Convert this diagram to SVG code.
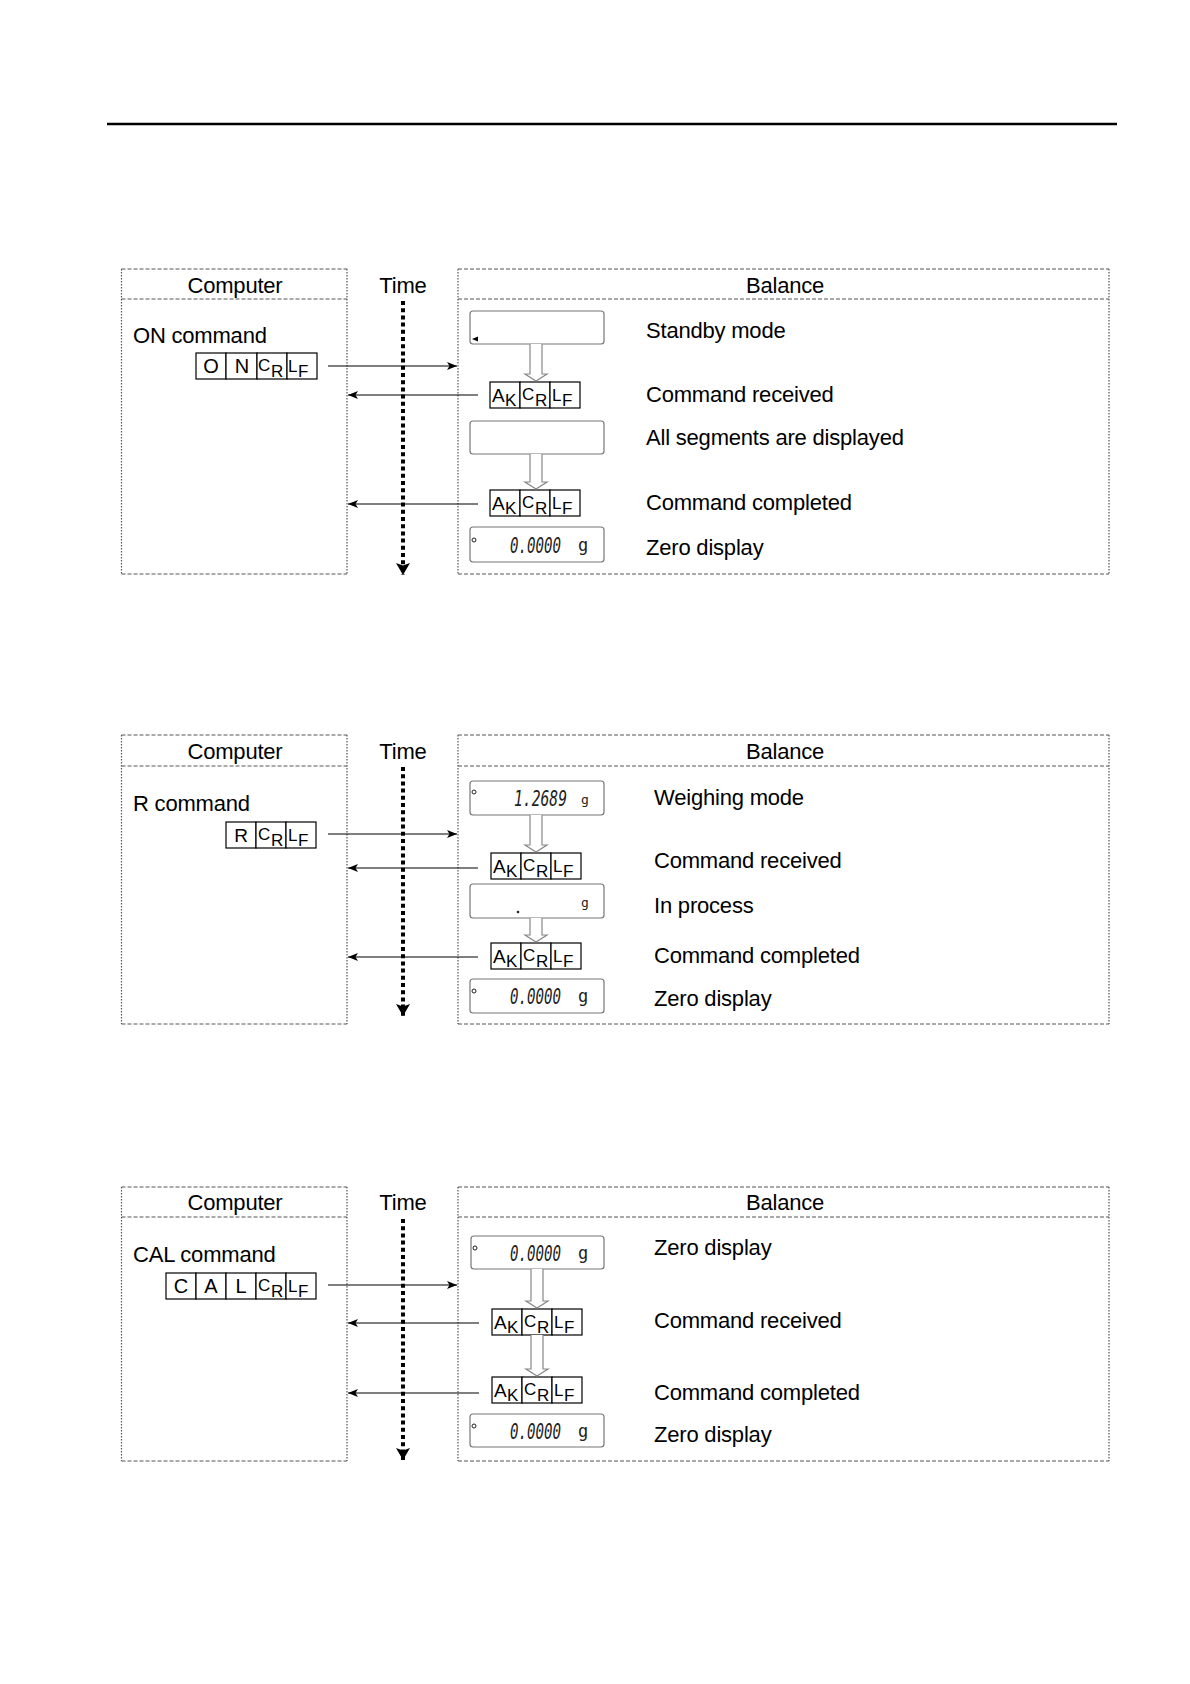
<svg xmlns="http://www.w3.org/2000/svg" width="1190" height="1684" viewBox="0 0 1190 1684">
<style>
.t{font-family:"Liberation Sans",Arial,sans-serif;font-size:22px;fill:#000;letter-spacing:-0.2px}
.tc{text-anchor:middle}
.c{font-family:"Liberation Sans",Arial,sans-serif;fill:#000}
.b19{font-size:19px}
.b17{font-size:17px}
.b20{font-size:20px}
.cell{fill:#fff;stroke:#000;stroke-width:1.2}
.hd{stroke:#555;stroke-width:1;stroke-dasharray:4 2;fill:none}
.sd{stroke:#555;stroke-width:1.2;stroke-dasharray:1.5 1.5;fill:none}
.disp{fill:#fff;stroke:#777;stroke-width:1.2}
.dig{font-family:"DejaVu Sans Mono",monospace;font-size:22px;fill:#222}
.ob{font-style:oblique}
.gs{font-family:"DejaVu Sans Mono",monospace;fill:#222}
.hol{fill:#fff;stroke:#888;stroke-width:1.2}
.arr{stroke:#000;stroke-width:1.2;fill:none;marker-end:url(#ah)}
.time{stroke:#000;stroke-width:4;stroke-dasharray:4 3.2;fill:none;marker-end:url(#tah)}
</style>
<defs>
<marker id="ah" viewBox="0 0 10 8" refX="10" refY="4" markerWidth="10" markerHeight="8" orient="auto" markerUnits="userSpaceOnUse"><path d="M0,0 L10,4 L0,8 L2.5,4 z" fill="#000"/></marker>
<marker id="tah" viewBox="0 0 12 14" refX="12" refY="7" markerWidth="12" markerHeight="14" orient="auto" markerUnits="userSpaceOnUse"><path d="M0,0 L12,7 L0,14 L2.5,7 z" fill="#000"/></marker>
</defs>
<rect width="1190" height="1684" fill="#fff"/>
<line x1="107" y1="124" x2="1117" y2="124" stroke="#000" stroke-width="2.5"/>

<!-- ================= PANEL 1 ================= -->
<g id="p1-computer">
<line class="hd" x1="121.5" y1="269" x2="347" y2="269"/>
<line class="hd" x1="121.5" y1="299" x2="347" y2="299"/>
<line class="hd" x1="121.5" y1="574" x2="347" y2="574"/>
<line class="sd" x1="121.5" y1="269" x2="121.5" y2="574"/>
<line class="sd" x1="347" y1="269" x2="347" y2="574"/>
<text class="t tc" x="235" y="293">Computer</text>
<text class="t" x="133" y="343">ON command</text>
</g>
<g id="p1-on-cmd">
<rect class="cell" x="196" y="353" width="30" height="26"/><rect class="cell" x="226" y="353" width="31" height="26"/><rect class="cell" x="257" y="353" width="30" height="26"/><rect class="cell" x="287" y="353" width="30" height="26"/>
<text class="c b20 tc" x="211" y="373">O</text><text class="c b20 tc" x="242" y="373">N</text>
<text class="c b17" x="258" y="371">C<tspan x="271" y="377">R</tspan></text>
<text class="c b17" x="288" y="372">L<tspan x="298" y="377">F</tspan></text>
</g>
<g id="p1-time">
<text class="t tc" x="403" y="293">Time</text>
</g>
<g id="p1-balance">
<line class="hd" x1="458" y1="269" x2="1109" y2="269"/>
<line class="hd" x1="458" y1="299" x2="1109" y2="299"/>
<line class="hd" x1="458" y1="574" x2="1109" y2="574"/>
<line class="sd" x1="458" y1="269" x2="458" y2="574"/>
<line class="sd" x1="1109" y1="269" x2="1109" y2="574"/>
<text class="t tc" x="785" y="293">Balance</text>
</g>
<g id="p1-standby">
<rect class="disp" x="470" y="311" width="134" height="33" rx="3"/>
<polygon points="472,339 478,336.5 478,341.5" fill="#000"/>
<text class="t" x="646" y="338">Standby mode</text>
</g>
<g id="p1-ack1">
<rect class="cell" x="490" y="382" width="30" height="26"/><rect class="cell" x="520" y="382" width="30" height="26"/><rect class="cell" x="550" y="382" width="30" height="26"/>
<text class="c b19" x="492" y="402">A<tspan class="b17" x="505" y="406">K</tspan></text>
<text class="c b17" x="522" y="400">C<tspan x="535" y="406">R</tspan></text>
<text class="c b17" x="552" y="401">L<tspan x="562" y="406">F</tspan></text>
<text class="t" x="646" y="402">Command received</text>
</g>
<g id="p1-allseg">
<rect class="disp" x="470" y="421" width="134" height="33" rx="3"/>
<text class="t" x="646" y="445">All segments are displayed</text>
</g>
<g id="p1-ack2">
<rect class="cell" x="490" y="490" width="30" height="26"/><rect class="cell" x="520" y="490" width="30" height="26"/><rect class="cell" x="550" y="490" width="30" height="26"/>
<text class="c b19" x="492" y="510">A<tspan class="b17" x="505" y="514">K</tspan></text>
<text class="c b17" x="522" y="508">C<tspan x="535" y="514">R</tspan></text>
<text class="c b17" x="552" y="509">L<tspan x="562" y="514">F</tspan></text>
<text class="t" x="646" y="510">Command completed</text>
</g>
<g id="p1-zero">
<rect class="disp" x="470" y="527" width="134" height="35" rx="3"/>
<circle cx="474" cy="540" r="2" fill="none" stroke="#222" stroke-width="1"/>
<text class="dig" y="553"><tspan class="ob" x="510" textLength="51" lengthAdjust="spacingAndGlyphs">0.0000</tspan><tspan x="578" y="551" font-size="17">g</tspan></text>
<text class="t" x="646" y="555">Zero display</text>
</g>

<!-- ================= PANEL 2 ================= -->
<g id="p2-computer">
<line class="hd" x1="121.5" y1="735" x2="347" y2="735"/>
<line class="hd" x1="121.5" y1="766" x2="347" y2="766"/>
<line class="hd" x1="121.5" y1="1024" x2="347" y2="1024"/>
<line class="sd" x1="121.5" y1="735" x2="121.5" y2="1024"/>
<line class="sd" x1="347" y1="735" x2="347" y2="1024"/>
<text class="t tc" x="235" y="759">Computer</text>
<text class="t" x="133" y="811">R command</text>
</g>
<g id="p2-r-cmd">
<rect class="cell" x="226" y="822" width="30" height="26"/><rect class="cell" x="256" y="822" width="30" height="26"/><rect class="cell" x="286" y="822" width="30" height="26"/>
<text class="c b19 tc" x="241" y="842">R</text>
<text class="c b17" x="258" y="840">C<tspan x="271" y="846">R</tspan></text>
<text class="c b17" x="288" y="841">L<tspan x="298" y="846">F</tspan></text>
</g>
<g id="p2-time">
<text class="t tc" x="403" y="759">Time</text>
</g>
<g id="p2-balance">
<line class="hd" x1="458" y1="735" x2="1109" y2="735"/>
<line class="hd" x1="458" y1="766" x2="1109" y2="766"/>
<line class="hd" x1="458" y1="1024" x2="1109" y2="1024"/>
<line class="sd" x1="458" y1="735" x2="458" y2="1024"/>
<line class="sd" x1="1109" y1="735" x2="1109" y2="1024"/>
<text class="t tc" x="785" y="759">Balance</text>
</g>
<g id="p2-weighing">
<rect class="disp" x="470" y="781" width="134" height="34" rx="3"/>
<circle cx="474" cy="792" r="2" fill="none" stroke="#222" stroke-width="1"/>
<text class="dig" y="806"><tspan class="ob" x="514" textLength="53" lengthAdjust="spacingAndGlyphs">1.2689</tspan><tspan x="581" y="804" font-size="13">g</tspan></text>
<text class="t" x="654" y="805">Weighing mode</text>
</g>
<g id="p2-ack1">
<rect class="cell" x="491" y="853" width="30" height="26"/><rect class="cell" x="521" y="853" width="30" height="26"/><rect class="cell" x="551" y="853" width="30" height="26"/>
<text class="c b19" x="493" y="873">A<tspan class="b17" x="506" y="877">K</tspan></text>
<text class="c b17" x="523" y="871">C<tspan x="536" y="877">R</tspan></text>
<text class="c b17" x="553" y="872">L<tspan x="563" y="877">F</tspan></text>
<text class="t" x="654" y="868">Command received</text>
</g>
<g id="p2-inprocess">
<rect class="disp" x="470" y="884" width="134" height="34" rx="3"/>
<circle cx="518" cy="912" r="1.3" fill="#222"/>
<text class="gs" x="581" y="907" font-size="13">g</text>
<text class="t" x="654" y="913">In process</text>
</g>
<g id="p2-ack2">
<rect class="cell" x="491" y="943" width="30" height="26"/><rect class="cell" x="521" y="943" width="30" height="26"/><rect class="cell" x="551" y="943" width="30" height="26"/>
<text class="c b19" x="493" y="963">A<tspan class="b17" x="506" y="967">K</tspan></text>
<text class="c b17" x="523" y="961">C<tspan x="536" y="967">R</tspan></text>
<text class="c b17" x="553" y="962">L<tspan x="563" y="967">F</tspan></text>
<text class="t" x="654" y="963">Command completed</text>
</g>
<g id="p2-zero">
<rect class="disp" x="470" y="979" width="134" height="34" rx="3"/>
<circle cx="474" cy="991" r="2" fill="none" stroke="#222" stroke-width="1"/>
<text class="dig" y="1004"><tspan class="ob" x="510" textLength="51" lengthAdjust="spacingAndGlyphs">0.0000</tspan><tspan x="578" y="1002" font-size="17">g</tspan></text>
<text class="t" x="654" y="1006">Zero display</text>
</g>

<!-- ================= PANEL 3 ================= -->
<g id="p3-computer">
<line class="hd" x1="121.5" y1="1187" x2="347" y2="1187"/>
<line class="hd" x1="121.5" y1="1217" x2="347" y2="1217"/>
<line class="hd" x1="121.5" y1="1461" x2="347" y2="1461"/>
<line class="sd" x1="121.5" y1="1187" x2="121.5" y2="1461"/>
<line class="sd" x1="347" y1="1187" x2="347" y2="1461"/>
<text class="t tc" x="235" y="1210">Computer</text>
<text class="t" x="133" y="1262">CAL command</text>
</g>
<g id="p3-cal-cmd">
<rect class="cell" x="166" y="1273" width="30" height="26"/><rect class="cell" x="196" y="1273" width="30" height="26"/><rect class="cell" x="226" y="1273" width="30" height="26"/><rect class="cell" x="256" y="1273" width="30" height="26"/><rect class="cell" x="286" y="1273" width="30" height="26"/>
<text class="c b20 tc" x="181" y="1293">C</text><text class="c b20 tc" x="211" y="1293">A</text><text class="c b20 tc" x="241" y="1293">L</text>
<text class="c b17" x="258" y="1291">C<tspan x="271" y="1297">R</tspan></text>
<text class="c b17" x="288" y="1292">L<tspan x="298" y="1297">F</tspan></text>
</g>
<g id="p3-time">
<text class="t tc" x="403" y="1210">Time</text>
</g>
<g id="p3-balance">
<line class="hd" x1="458" y1="1187" x2="1109" y2="1187"/>
<line class="hd" x1="458" y1="1217" x2="1109" y2="1217"/>
<line class="hd" x1="458" y1="1461" x2="1109" y2="1461"/>
<line class="sd" x1="458" y1="1187" x2="458" y2="1461"/>
<line class="sd" x1="1109" y1="1187" x2="1109" y2="1461"/>
<text class="t tc" x="785" y="1210">Balance</text>
</g>
<g id="p3-zero1">
<rect class="disp" x="471" y="1236" width="133" height="33" rx="3"/>
<circle cx="475" cy="1248" r="2" fill="none" stroke="#222" stroke-width="1"/>
<text class="dig" y="1261"><tspan class="ob" x="510" textLength="51" lengthAdjust="spacingAndGlyphs">0.0000</tspan><tspan x="578" y="1259" font-size="17">g</tspan></text>
<text class="t" x="654" y="1255">Zero display</text>
</g>
<g id="p3-ack1">
<rect class="cell" x="492" y="1309" width="30" height="26"/><rect class="cell" x="522" y="1309" width="30" height="26"/><rect class="cell" x="552" y="1309" width="30" height="26"/>
<text class="c b19" x="494" y="1329">A<tspan class="b17" x="507" y="1333">K</tspan></text>
<text class="c b17" x="524" y="1327">C<tspan x="537" y="1333">R</tspan></text>
<text class="c b17" x="554" y="1328">L<tspan x="564" y="1333">F</tspan></text>
<text class="t" x="654" y="1328">Command received</text>
</g>
<g id="p3-ack2">
<rect class="cell" x="492" y="1377" width="30" height="26"/><rect class="cell" x="522" y="1377" width="30" height="26"/><rect class="cell" x="552" y="1377" width="30" height="26"/>
<text class="c b19" x="494" y="1397">A<tspan class="b17" x="507" y="1401">K</tspan></text>
<text class="c b17" x="524" y="1395">C<tspan x="537" y="1401">R</tspan></text>
<text class="c b17" x="554" y="1396">L<tspan x="564" y="1401">F</tspan></text>
<text class="t" x="654" y="1400">Command completed</text>
</g>
<g id="p3-zero2">
<rect class="disp" x="470" y="1414" width="134" height="33" rx="3"/>
<circle cx="474" cy="1426" r="2" fill="none" stroke="#222" stroke-width="1"/>
<text class="dig" y="1439"><tspan class="ob" x="510" textLength="51" lengthAdjust="spacingAndGlyphs">0.0000</tspan><tspan x="578" y="1437" font-size="17">g</tspan></text>
<text class="t" x="654" y="1442">Zero display</text>
</g>

<!-- ================= CONNECTORS ================= -->
<g id="connectors">
<line class="time" x1="403" y1="301" x2="403" y2="575"/>
<line class="time" x1="403" y1="767" x2="403" y2="1016"/>
<line class="time" x1="403" y1="1219" x2="403" y2="1460"/>

<line class="arr" x1="328" y1="366" x2="457" y2="366"/>
<line class="arr" x1="478" y1="395" x2="348" y2="395"/>
<line class="arr" x1="478" y1="504" x2="348" y2="504"/>

<line class="arr" x1="328" y1="834" x2="457" y2="834"/>
<line class="arr" x1="478" y1="868" x2="348" y2="868"/>
<line class="arr" x1="478" y1="957" x2="348" y2="957"/>

<line class="arr" x1="328" y1="1285" x2="457" y2="1285"/>
<line class="arr" x1="479" y1="1323" x2="348" y2="1323"/>
<line class="arr" x1="479" y1="1393" x2="348" y2="1393"/>

<path class="hol" d="M530,344 V374 H525 L536,381 L547,374 H542 V344"/>
<path class="hol" d="M530,454 V482 H525 L536,489 L547,482 H542 V454"/>
<path class="hol" d="M530,815 V845 H525 L536,852 L547,845 H542 V815"/>
<path class="hol" d="M530,918 V935 H525 L536,942 L547,935 H542 V918"/>
<path class="hol" d="M531,1269 V1301 H526 L537,1308 L548,1301 H543 V1269"/>
<path class="hol" d="M531,1335 V1369 H526 L537,1376 L548,1369 H543 V1335"/>
</g>
</svg>
